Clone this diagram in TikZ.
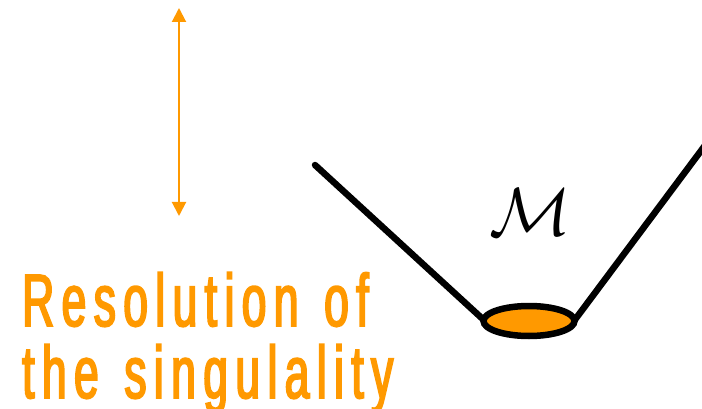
\documentclass[tikz,border=0pt]{standalone}
\usepackage{fontspec}
\setmainfont{Liberation Sans}
\newfontfamily\labelfont[FakeStretch=0.6,LetterSpace=10,FakeBold=2.5,WordSpace=1.3]{Liberation Sans}
\usetikzlibrary{arrows.meta,shapes.geometric}
\definecolor{orng}{RGB}{255,153,0}
\begin{document}
\begin{tikzpicture}[x=1pt,y=-1pt,
  surf/.style={line width=6.5pt,black},
  dbl/.style={orng,line width=2pt,{Triangle[length=14pt,width=14pt]}-{Triangle[length=14pt,width=14pt]}},
  lbl/.style={orng,font=\labelfont\fontsize{74}{73}\selectfont,anchor=base west,inner sep=0pt}]
\useasboundingbox (0,0) rectangle (702,409);
\coordinate (at) at (179,8);
\coordinate (ab) at (179,216);
\draw[dbl] (at) -- (ab);
\coordinate (l1) at (315,165);
\coordinate (l2) at (486,322);
\coordinate (r1) at (574,321);
\coordinate (r2) at (712,136);
\draw[surf,line cap=round] (l1) -- (l2);
\draw[surf] (r1) -- (r2);
\node[surf,draw,fill=orng,ellipse,minimum width=91pt,minimum height=30pt,inner sep=0pt] (ell) at (529,321) {};
\node[scale=6.8,inner sep=0pt] (M) at (530,212) {$\mathcal{M}$};
\node[lbl] (t1) at (22,326) {Resolution of};
\node[lbl] (t2) at (22,398) {the singulality};
\end{tikzpicture}
\end{document}
